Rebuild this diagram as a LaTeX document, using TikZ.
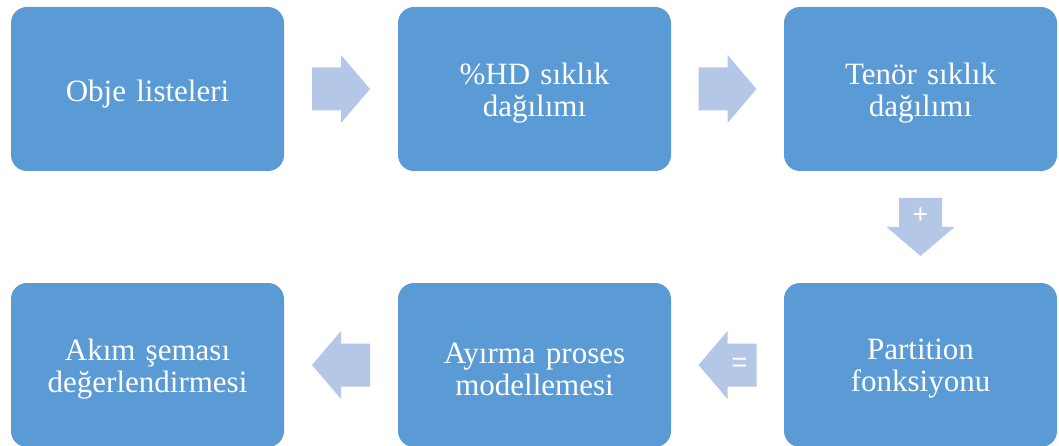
\documentclass[tikz,border=0pt]{standalone}
\usepackage{fontspec}
\setmainfont{Liberation Serif}
\newfontfamily\signfont{Liberation Sans}
\usetikzlibrary{calc}
\definecolor{boxblue}{HTML}{5B9BD5}
\definecolor{arrowblue}{HTML}{B4C7E7}
\newcommand\captionfont{\fontsize{31}{32}\selectfont\spaceskip=0.33em plus 0.1em\relax}
\begin{document}
\begin{tikzpicture}[x=1pt,y=-1pt,
  stage/.style={fill=boxblue, draw=none, rounded corners=16pt,
    minimum width=273pt, minimum height=164pt, inner sep=0pt},
  stagetext/.style={text=white, align=center, inner sep=0pt,
    font=\captionfont},
  sign/.style={text=white, font=\signfont\fontsize{27}{27}\selectfont, inner sep=0pt},
  pics/blockarrow/.style={code={
    \fill[arrowblue] (-29,-21.5) -- (0,-21.5) -- (0,-34) -- (29,0)
      -- (0,34) -- (0,21.5) -- (-29,21.5) -- cycle;}}]
  \useasboundingbox (0,0) rectangle (1059,446);
  % top row boxes
  \node[stage] (obje)  at (147.5,89) {};
  \node[stage] (hd)    at (534.5,89) {};
  \node[stage] (tenor) at (920.5,89) {};
  % bottom row boxes
  \node[stage] (akim)  at (147.5,365) {};
  \node[stage] (ayir)  at (534.5,365) {};
  \node[stage] (part)  at (920.5,365) {};
  % box captions
  \node[stagetext] (obje-t)  at ($(obje.center)+(0,5)$)  {Obje listeleri};
  \node[stagetext] (hd-t)    at ($(hd.center)+(0,4)$)    {\%HD sıklık\\dağılımı};
  \node[stagetext] (tenor-t) at ($(tenor.center)+(0,4)$) {Tenör sıklık\\dağılımı};
  \node[stagetext] (akim-t)  at ($(akim.center)+(0,4)$)  {Akım şeması\\değerlendirmesi};
  \node[stagetext] (ayir-t)  at ($(ayir.center)+(0,4)$)  {Ayırma proses\\modellemesi};
  \node[stagetext] (part-t)  at ($(part.center)+(0,4)$)  {Partition\\fonksiyonu};
  % block arrows between the stages
  \coordinate (f1) at ($(obje.east)!0.5!(hd.west)$);
  \coordinate (f2) at ($(hd.east)!0.5!(tenor.west)$);
  \coordinate (f3) at ($(tenor.south)!0.5!(part.north)$);
  \coordinate (f4) at ($(ayir.east)!0.5!(part.west)$);
  \coordinate (f5) at ($(akim.east)!0.5!(ayir.west)$);
  \pic at (f1) {blockarrow};
  \pic at (f2) {blockarrow};
  \pic[rotate=-90] at (f3) {blockarrow};
  \pic[rotate=180] at (f4) {blockarrow};
  \pic[rotate=180] at (f5) {blockarrow};
  % operators on the arrows
  \node[sign] (plus)   at ($(f3)+(0,-11)$) {+};
  \node[sign] (equals) at ($(f4)+(12,0)$) {=};
\end{tikzpicture}
\end{document}
